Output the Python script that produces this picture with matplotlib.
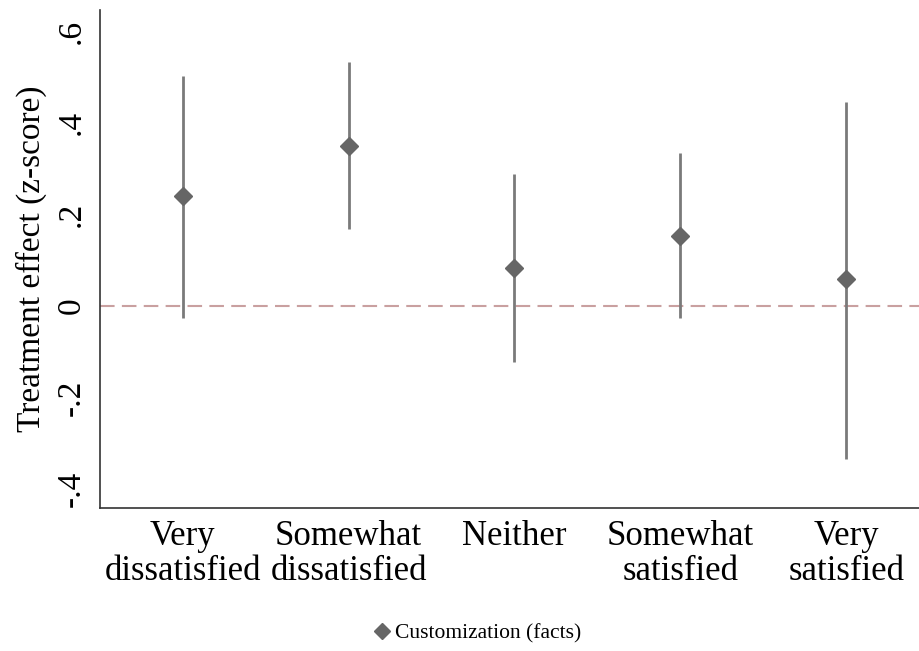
import matplotlib
matplotlib.use("Agg")
import matplotlib.pyplot as plt
from matplotlib.lines import Line2D

plt.rcParams["font.family"] = ["Liberation Serif", "DejaVu Serif"]

categories = ["Very\ndissatisfied", "Somewhat\ndissatisfied", "Neither",
              "Somewhat\nsatisfied", "Very\nsatisfied"]
estimate = [0.239, 0.350, 0.083, 0.153, 0.059]
ci_low = [-0.026, 0.168, -0.122, -0.026, -0.335]
ci_high = [0.503, 0.532, 0.288, 0.333, 0.445]
yticks = [-0.4, -0.2, 0, 0.2, 0.4, 0.6]
ytick_labels = ["-.4", "-.2", "0", ".2", ".4", ".6"]
legend_label = "Customization (facts)"

MARK = "#666666"
LINE = "#7a7a7a"
REF = "#c9a0a0"

fig = plt.figure(figsize=(9.2, 6.51), dpi=100)
ax = fig.add_axes([0.1084, 0.2197, 0.9016, 0.7649])

x = list(range(1, len(categories) + 1))
ax.vlines(x, ci_low, ci_high, color=LINE, linewidth=2, zorder=2)
ax.plot(x, estimate, linestyle="none", marker="D", markersize=9.5,
        color=MARK, zorder=3)
ax.axhline(0, color=REF, linewidth=1.5, dashes=(7, 3.5), zorder=1)

ax.set_xlim(0.5, 5.5)
ax.set_ylim(-0.441, 0.646)
ax.set_xticks(x)
ax.set_xticklabels(categories, fontsize=25, linespacing=1.05)
ax.set_yticks(yticks)
ax.set_yticklabels(ytick_labels, fontsize=24, rotation=90, va="center")
ax.tick_params(axis="x", length=0, pad=9)
ax.tick_params(axis="y", length=0, pad=9)
ax.set_ylabel("Treatment effect (z-score)", fontsize=24, labelpad=7)

for side in ["top", "right"]:
    ax.spines[side].set_visible(False)
for side in ["left", "bottom"]:
    ax.spines[side].set_color("#333333")
    ax.spines[side].set_linewidth(1.2)

handle = Line2D([], [], linestyle="none", marker="D", markersize=8.5, color=MARK)
fig.legend([handle], [legend_label], loc="center", bbox_to_anchor=(0.518, 0.027),
           frameon=False, fontsize=15.5, handletextpad=0.1, handlelength=1.0)

fig.savefig("out.png", dpi=100, facecolor="white")
